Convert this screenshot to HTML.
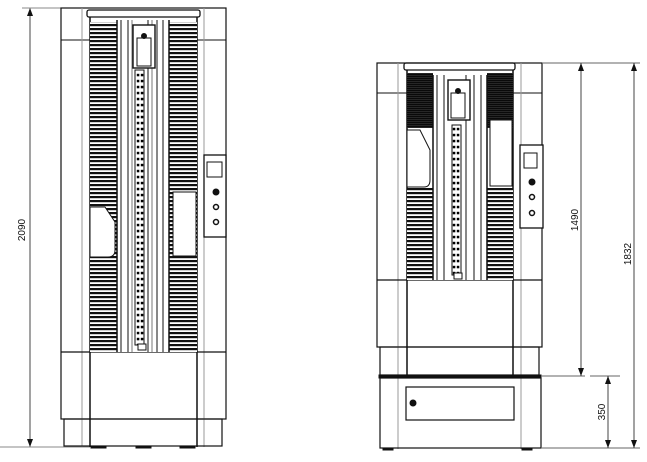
<!DOCTYPE html>
<html><head><meta charset="utf-8"><style>
html,body{margin:0;padding:0;background:#fff;}
svg{display:block}
text{font-family:"Liberation Sans",sans-serif;font-size:10px;fill:#111}
</style></head><body>
<svg width="647" height="462" viewBox="0 0 647 462" xmlns="http://www.w3.org/2000/svg">
<defs>
<pattern id="lv" width="4" height="4" patternUnits="userSpaceOnUse"><rect width="4" height="4" fill="#fff"/><rect y="0" width="4" height="2.2" fill="#111"/></pattern>
<pattern id="lvd" width="4" height="2" patternUnits="userSpaceOnUse"><rect width="4" height="2" fill="#333"/><rect y="0" width="4" height="1.3" fill="#0a0a0a"/></pattern>
<pattern id="ch" width="8" height="6" patternUnits="userSpaceOnUse"><rect width="8" height="6" fill="#fff"/><rect x="0.8" y="1.8" width="2.5" height="2.5" fill="#000"/><rect x="4.8" y="1.8" width="2.5" height="2.5" fill="#000"/></pattern>
</defs>
<g fill="none" stroke="#111" stroke-width="1">
<!-- LEFT CABINET -->
<line x1="30" y1="8" x2="30" y2="447" stroke="#444"/>
<polygon points="27,16 30,8 33,16" fill="#111" stroke="none"/>
<polygon points="27,439 30,447 33,439" fill="#111" stroke="none"/>
<line x1="0" y1="447" x2="90" y2="447" stroke="#888"/>
<line x1="22" y1="8" x2="61" y2="8" stroke="#888"/>
<rect x="61" y="8" width="165" height="411" stroke-width="1.2"/>
<line x1="61" y1="40" x2="90" y2="40"/><line x1="197" y1="40" x2="226" y2="40"/>
<line x1="82" y1="8" x2="82" y2="447" stroke="#999"/>
<line x1="204" y1="8" x2="204" y2="447" stroke="#999"/>
<line x1="90" y1="17" x2="90" y2="447" stroke-width="1.5"/>
<line x1="197" y1="17" x2="197" y2="447" stroke-width="1.5"/>
<rect x="87" y="10" width="113" height="7" rx="2" stroke-width="1.3"/>
<line x1="61" y1="352" x2="226" y2="352" stroke-width="1.2"/>
<rect x="64" y="419" width="158" height="27" stroke-width="1.2"/>
<rect x="91" y="446" width="15" height="2" fill="#111"/><rect x="136" y="446" width="15" height="2" fill="#111"/><rect x="180" y="446" width="15" height="2" fill="#111"/>
<rect x="90" y="22" width="27" height="330" fill="url(#lv)" stroke="none"/>
<rect x="169" y="22" width="28" height="330" fill="url(#lv)" stroke="none"/>
<path d="M90,207 H105 L115,222 V250 Q115,257 108,257 H90 Z" fill="#fff" stroke-width="1"/>
<rect x="173" y="192" width="23" height="64" fill="#fff"/>
<rect x="117" y="20" width="52" height="332" fill="#fff" stroke="none"/>
<line x1="117" y1="20" x2="117" y2="352" stroke-width="1.5"/><line x1="121" y1="20" x2="121" y2="352"/>
<line x1="128" y1="20" x2="128" y2="352"/><line x1="132" y1="20" x2="132" y2="352" stroke="#777"/>
<line x1="148" y1="20" x2="148" y2="352"/><line x1="152" y1="20" x2="152" y2="352" stroke="#777"/>
<line x1="157" y1="20" x2="157" y2="352"/><line x1="163" y1="20" x2="163" y2="352"/><line x1="169" y1="20" x2="169" y2="352" stroke-width="1.5"/>
<rect x="135" y="70" width="9" height="275" fill="url(#ch)"/>
<rect x="138" y="344" width="8" height="6" fill="#fff"/>
<rect x="133" y="25" width="22" height="43" fill="#fff" stroke-width="1.4"/>
<rect x="137" y="38" width="14" height="28" fill="#fff"/>
<circle cx="144" cy="36" r="2.5" fill="#111"/>
<rect x="204" y="155" width="22" height="82" fill="#fff" stroke-width="1.3"/>
<rect x="207" y="162" width="15" height="15"/>
<circle cx="216" cy="192" r="3" fill="#111"/><circle cx="216" cy="207" r="2.5" stroke-width="1.5"/><circle cx="216" cy="222" r="2.5" stroke-width="1.5"/>
<text x="0" y="0" transform="translate(25,230) rotate(-90)" text-anchor="middle" stroke="none">2090</text>

<!-- RIGHT CABINET -->
<rect x="377" y="63" width="165" height="284" stroke-width="1.2"/>
<line x1="377" y1="93" x2="407" y2="93"/><line x1="513" y1="93" x2="542" y2="93"/>
<line x1="398" y1="63" x2="398" y2="449" stroke="#999"/>
<line x1="521" y1="63" x2="521" y2="449" stroke="#999"/>
<line x1="407" y1="70" x2="407" y2="375" stroke-width="1.5"/>
<line x1="513" y1="70" x2="513" y2="375" stroke-width="1.5"/>
<rect x="404" y="63" width="111" height="7" rx="2" stroke-width="1.3"/>
<line x1="377" y1="280" x2="542" y2="280" stroke-width="1.2"/>
<rect x="380" y="347" width="159" height="28" stroke-width="1.2"/>
<rect x="379" y="375" width="162" height="3" fill="#111"/>
<rect x="380" y="378" width="161" height="70" stroke-width="1.2"/>
<rect x="406" y="387" width="108" height="33" stroke-width="1.2"/>
<circle cx="413" cy="403" r="3" fill="#111"/>
<rect x="383" y="448" width="10" height="2" fill="#111"/><rect x="522" y="448" width="10" height="2" fill="#111"/>
<rect x="407" y="73" width="26" height="55" fill="url(#lvd)" stroke="none"/>
<rect x="487" y="73" width="26" height="55" fill="url(#lvd)" stroke="none"/>
<rect x="407" y="188" width="26" height="92" fill="url(#lv)" stroke="none"/>
<rect x="487" y="188" width="26" height="92" fill="url(#lv)" stroke="none"/>
<path d="M407,130 H420 L430,150 V180 Q430,187 424,187 H407 Z" fill="#fff"/>
<rect x="490" y="120" width="22" height="66" fill="#fff"/>
<rect x="433" y="75" width="54" height="205" fill="#fff" stroke="none"/>
<line x1="433" y1="75" x2="433" y2="280" stroke-width="1.5"/><line x1="437" y1="75" x2="437" y2="280"/>
<line x1="444" y1="75" x2="444" y2="280"/><line x1="466" y1="75" x2="466" y2="280"/>
<line x1="474" y1="75" x2="474" y2="280"/><line x1="481" y1="75" x2="481" y2="280"/><line x1="487" y1="75" x2="487" y2="280" stroke-width="1.5"/>
<rect x="452" y="125" width="9" height="150" fill="url(#ch)"/>
<rect x="454" y="273" width="8" height="6" fill="#fff"/>
<rect x="448" y="80" width="22" height="40" fill="#fff" stroke-width="1.4"/>
<rect x="451" y="93" width="14" height="25" fill="#fff"/>
<circle cx="458" cy="91" r="2.5" fill="#111"/>
<rect x="520" y="145" width="23" height="83" fill="#fff" stroke-width="1.3"/>
<rect x="524" y="153" width="13" height="15"/>
<circle cx="532" cy="182" r="3" fill="#111"/><circle cx="532" cy="197" r="2.5" stroke-width="1.5"/><circle cx="532" cy="213" r="2.5" stroke-width="1.5"/>
<!-- dims -->
<line x1="542" y1="63" x2="640" y2="63" stroke="#666"/>
<line x1="541" y1="376" x2="585" y2="376" stroke="#666"/><line x1="590" y1="376" x2="620" y2="376" stroke="#666"/>
<line x1="541" y1="448" x2="640" y2="448" stroke="#666"/>
<line x1="581" y1="63" x2="581" y2="376" stroke="#444"/>
<polygon points="578,71 581,63 584,71" fill="#111" stroke="none"/><polygon points="578,368 581,376 584,368" fill="#111" stroke="none"/>
<line x1="634" y1="63" x2="634" y2="448" stroke="#444"/>
<polygon points="631,71 634,63 637,71" fill="#111" stroke="none"/><polygon points="631,440 634,448 637,440" fill="#111" stroke="none"/>
<line x1="608" y1="376" x2="608" y2="448" stroke="#444"/>
<polygon points="605,384 608,376 611,384" fill="#111" stroke="none"/><polygon points="605,440 608,448 611,440" fill="#111" stroke="none"/>
</g>
<text transform="translate(578,220) rotate(-90)" text-anchor="middle">1490</text>
<text transform="translate(631,254) rotate(-90)" text-anchor="middle">1832</text>
<text transform="translate(605,412) rotate(-90)" text-anchor="middle">350</text>
</svg>
</body></html>
